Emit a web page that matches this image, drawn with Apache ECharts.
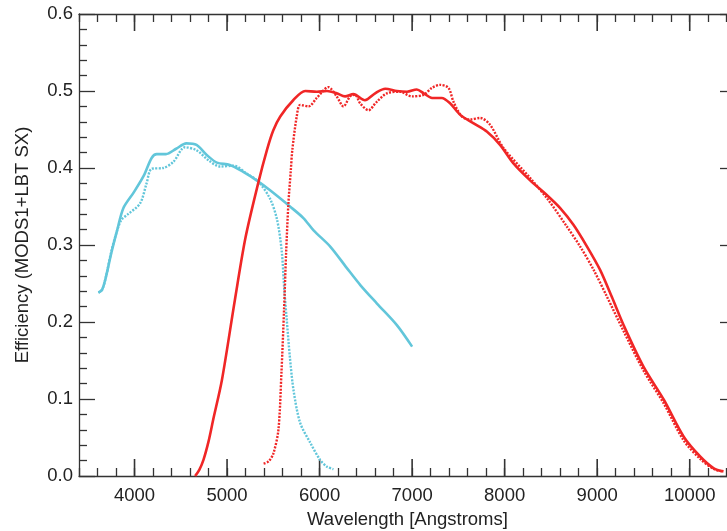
<!DOCTYPE html>
<html>
<head>
<meta charset="utf-8">
<script src="https://cdn.jsdelivr.net/npm/echarts@6/dist/echarts.min.js"></script>
<style>
html,body{margin:0;padding:0;background:#fff;}
#chart{width:727px;height:531px;}
</style>
</head>
<body>
<div id="chart"></div>
<script>
// ---- data (wavelength in Angstroms, efficiency) ----
var blueSolidWl  = [3610,3650,3690,3750,3810,3880,3990,4100,4185,4240,4340,4450,4560,4670,4780,4890,5030,5175,5320,5465,5680,5825,5935,6115,6295,6440,6620,6835,7000];
var blueSolidEff = [0.238,0.242,0.258,0.290,0.318,0.348,0.368,0.390,0.413,0.418,0.418,0.425,0.432,0.430,0.417,0.407,0.404,0.395,0.384,0.371,0.350,0.335,0.319,0.298,0.270,0.248,0.224,0.196,0.168];

var blueDotWl  = [3610,3650,3690,3750,3810,3860,3930,4060,4130,4185,4310,4420,4545,4670,4800,4925,5070,5210,5340,5465,5540,5590,5620,5645,5680,5720,5790,5900,6005,6080,6150];
var blueDotEff = [0.238,0.242,0.258,0.292,0.318,0.333,0.340,0.354,0.380,0.399,0.400,0.408,0.427,0.423,0.410,0.402,0.403,0.393,0.382,0.360,0.333,0.293,0.240,0.203,0.153,0.110,0.069,0.043,0.021,0.012,0.009];

var redSolidWl  = [4655,4700,4745,4800,4850,4945,5085,5200,5340,5430,5500,5575,5715,5845,5970,6080,6185,6275,6365,6490,6600,6710,6835,6945,7050,7125,7215,7320,7410,7520,7665,7810,7950,8095,8275,8455,8600,8745,8890,9030,9160,9285,9500,9720,9935,10115,10260,10365];
var redSolidEff = [0.000,0.008,0.021,0.045,0.073,0.125,0.229,0.310,0.382,0.423,0.449,0.467,0.488,0.500,0.499,0.500,0.497,0.493,0.496,0.488,0.497,0.503,0.500,0.499,0.502,0.497,0.491,0.491,0.484,0.469,0.458,0.447,0.430,0.406,0.384,0.365,0.348,0.326,0.298,0.268,0.232,0.196,0.142,0.099,0.051,0.025,0.010,0.006];

var redDotWl  = [5395,5450,5500,5555,5588,5616,5638,5663,5689,5705,5753,5790,5880,5970,6095,6185,6258,6330,6384,6438,6528,6618,6727,6870,6997,7123,7213,7303,7393,7447,7537,7627,7735,7843,7987,8276,8474,8672,8816,8960,9105,9286,9500,9720,9935,10115,10260,10350];
var redDotEff = [0.016,0.019,0.029,0.060,0.135,0.216,0.289,0.354,0.397,0.423,0.467,0.482,0.480,0.491,0.505,0.493,0.480,0.493,0.495,0.484,0.475,0.486,0.497,0.499,0.493,0.495,0.504,0.508,0.504,0.486,0.467,0.463,0.465,0.456,0.426,0.387,0.358,0.324,0.298,0.268,0.233,0.188,0.137,0.094,0.046,0.022,0.009,0.006];

var xMajorTicks = [4000,5000,6000,7000,8000,9000,10000];
var yTickLabels = ['0.0','0.1','0.2','0.3','0.4','0.5','0.6'];

function zip(a, b) { return a.map(function (v, i) { return [v, b[i]]; }); }

var BLUE = '#62c6da';
var RED = '#f02626';
var AX = '#333333';
var FONT = '"Liberation Sans", Arial, Helvetica, sans-serif';
var FS = 18.5;
var Y_MIN = 0, Y_MAX = 0.6;

function xAx(pos, showLabel) {
  var o = {
    type: 'value', position: pos, min: 3400, max: 10500, interval: 200,
    axisLine: { show: true, onZero: false, lineStyle: { color: AX, width: 1.3 } },
    axisTick: { show: true, inside: true, length: 8, lineStyle: { color: AX, width: 1.3 } },
    axisLabel: { show: false },
    splitLine: { show: false }
  };
  if (showLabel) {
    o.axisLabel = {
      show: true, margin: 10, color: '#222', fontSize: FS, fontFamily: FONT,
      formatter: function (v) { return v % 1000 === 0 ? String(v) : ''; }
    };
    o.name = 'Wavelength [Angstroms]';
    o.nameLocation = 'middle';
    o.nameGap = 34;
    o.nameTextStyle = { color: '#222', fontSize: FS, fontFamily: FONT };
  }
  return o;
}

function yAx(pos, showLabel) {
  var o = {
    type: 'value', position: pos, min: Y_MIN, max: Y_MAX, interval: 0.1,
    axisLine: { show: true, onZero: false, lineStyle: { color: AX, width: 1.3 } },
    axisTick: { show: true, inside: true, length: 16, lineStyle: { color: AX, width: 1.3 } },
    minorTick: { show: true, splitNumber: 5, length: 8, lineStyle: { color: AX, width: 1.3 } },
    axisLabel: { show: false },
    splitLine: { show: false }
  };
  if (showLabel) {
    o.axisLabel = {
      show: true, margin: 6, color: '#222', fontSize: FS, fontFamily: FONT,
      formatter: function (v) { return yTickLabels[Math.round(v * 10)]; }
    };
    o.name = 'Efficiency (MODS1+LBT SX)';
    o.nameLocation = 'middle';
    o.nameGap = 47;
    o.nameTextStyle = { color: '#222', fontSize: FS, fontFamily: FONT };
  }
  return o;
}

// long major ticks at every 1000 A on bottom and top frame, placed through the axis scale
function renderMajorTick(params, api) {
  var v = api.value(0);
  var b = api.coord([v, Y_MIN]);
  var t = api.coord([v, Y_MAX]);
  return {
    type: 'group',
    children: [
      { type: 'line', shape: { x1: b[0], y1: b[1], x2: b[0], y2: b[1] - 17 }, style: { stroke: AX, lineWidth: 1.6 } },
      { type: 'line', shape: { x1: t[0], y1: t[1], x2: t[0], y2: t[1] + 17 }, style: { stroke: AX, lineWidth: 1.6 } }
    ]
  };
}

var chart = echarts.init(document.getElementById('chart'), null, { renderer: 'canvas' });
chart.setOption({
  backgroundColor: '#fff',
  animation: false,
  grid: { left: 79, top: 14, width: 657, height: 462, containLabel: false, outerBoundsMode: 'none' },
  xAxis: [xAx('bottom', true), xAx('top', false)],
  yAxis: [yAx('left', true), yAx('right', false)],
  series: [
    { type: 'line', data: zip(blueDotWl, blueDotEff), showSymbol: false, smooth: 0.3,
      lineStyle: { color: BLUE, width: 2.4, type: [2, 1.4] } },
    { type: 'line', data: zip(blueSolidWl, blueSolidEff), showSymbol: false, smooth: 0.3,
      lineStyle: { color: BLUE, width: 2.6 } },
    { type: 'line', data: zip(redDotWl, redDotEff), showSymbol: false, smooth: 0.3,
      lineStyle: { color: RED, width: 2.4, type: [2, 1.4] } },
    { type: 'line', data: zip(redSolidWl, redSolidEff), showSymbol: false, smooth: 0.3,
      lineStyle: { color: RED, width: 2.6 } },
    { type: 'custom', renderItem: renderMajorTick, clip: false,
      data: xMajorTicks.map(function (v) { return [v, Y_MIN]; }), encode: { x: 0, y: 1 } }
  ]
});
</script>
</body>
</html>
